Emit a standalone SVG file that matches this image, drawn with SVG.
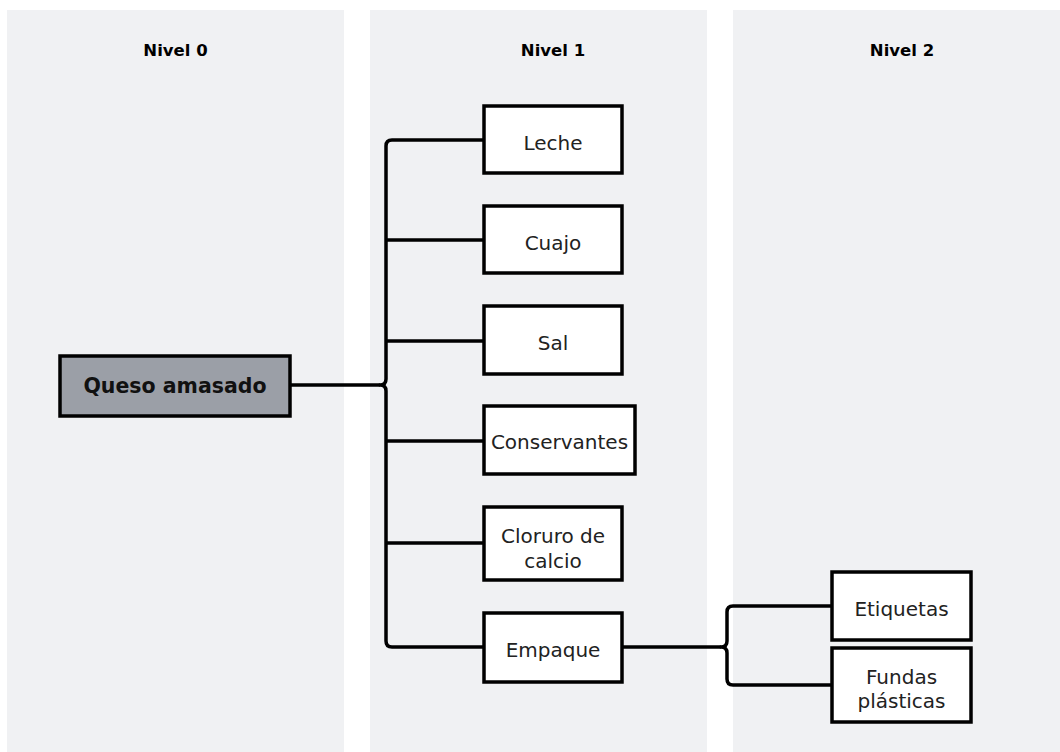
<svg xmlns="http://www.w3.org/2000/svg" width="1060" height="752" viewBox="0 0 1060 752">
<style>
.panel{fill:#f0f1f3}
.hdr{font-family:"DejaVu Sans",sans-serif;font-weight:bold;font-size:16.5px;fill:#000;text-anchor:middle}
.box{fill:#fff;stroke:#000;stroke-width:3.5}
.root{fill:#9b9fa7;stroke:#000;stroke-width:3.5}
.lbl{font-family:"DejaVu Sans",sans-serif;font-size:20px;fill:#222;text-anchor:middle}
.rlbl{font-family:"DejaVu Sans",sans-serif;font-size:20.5px;font-weight:bold;fill:#111;text-anchor:middle}
.con{fill:none;stroke:#000;stroke-width:3.5;stroke-linejoin:round}
</style>
<rect width="1060" height="752" fill="#fff"/>
<g id="panels">
<rect class="panel" x="7" y="10" width="337" height="742"/>
<rect class="panel" x="370" y="10" width="337" height="742"/>
<rect class="panel" x="733" y="10" width="327" height="742"/>
<text class="hdr" x="175.5" y="56">Nivel 0</text>
<text class="hdr" x="553" y="56">Nivel 1</text>
<text class="hdr" x="902" y="56">Nivel 2</text>
</g>
<g id="connectors">
<path class="con" d="M290,385 H380"/>
<path class="con" d="M484,140 H392 Q386,140 386,146 V379 Q386,385 380,385 Q386,385 386,391 V641 Q386,647 392,647 H484"/>
<path class="con" d="M386,240 H484 M386,341 H484 M386,441 H484 M386,543 H484"/>
<path class="con" d="M622,647 H721"/>
<path class="con" d="M832,606 H733 Q727,606 727,612 V641 Q727,647 721,647 Q727,647 727,653 V679 Q727,685 733,685 H832"/>
</g>
<g id="n-queso">
<rect class="root" x="60" y="356" width="230" height="60"/>
<text class="rlbl" x="175" y="393">Queso amasado</text>
</g>
<g id="n-leche">
<rect class="box" x="484" y="106" width="138" height="67"/>
<text class="lbl" x="553" y="150">Leche</text>
</g>
<g id="n-cuajo">
<rect class="box" x="484" y="206" width="138" height="67"/>
<text class="lbl" x="553" y="250">Cuajo</text>
</g>
<g id="n-sal">
<rect class="box" x="484" y="306" width="138" height="68"/>
<text class="lbl" x="553" y="350">Sal</text>
</g>
<g id="n-conservantes">
<rect class="box" x="484" y="406" width="151" height="68"/>
<text class="lbl" x="559.5" y="449">Conservantes</text>
</g>
<g id="n-cloruro">
<rect class="box" x="484" y="507" width="138" height="73"/>
<text class="lbl" x="553" y="543">Cloruro de</text>
<text class="lbl" x="553" y="568">calcio</text>
</g>
<g id="n-empaque">
<rect class="box" x="484" y="613" width="138" height="69"/>
<text class="lbl" x="553" y="657">Empaque</text>
</g>
<g id="n-etiquetas">
<rect class="box" x="832" y="572" width="139" height="68"/>
<text class="lbl" x="901.5" y="616">Etiquetas</text>
</g>
<g id="n-fundas">
<rect class="box" x="832" y="648" width="139" height="74"/>
<text class="lbl" x="901.5" y="684">Fundas</text>
<text class="lbl" x="901.5" y="708">plásticas</text>
</g>
</svg>
